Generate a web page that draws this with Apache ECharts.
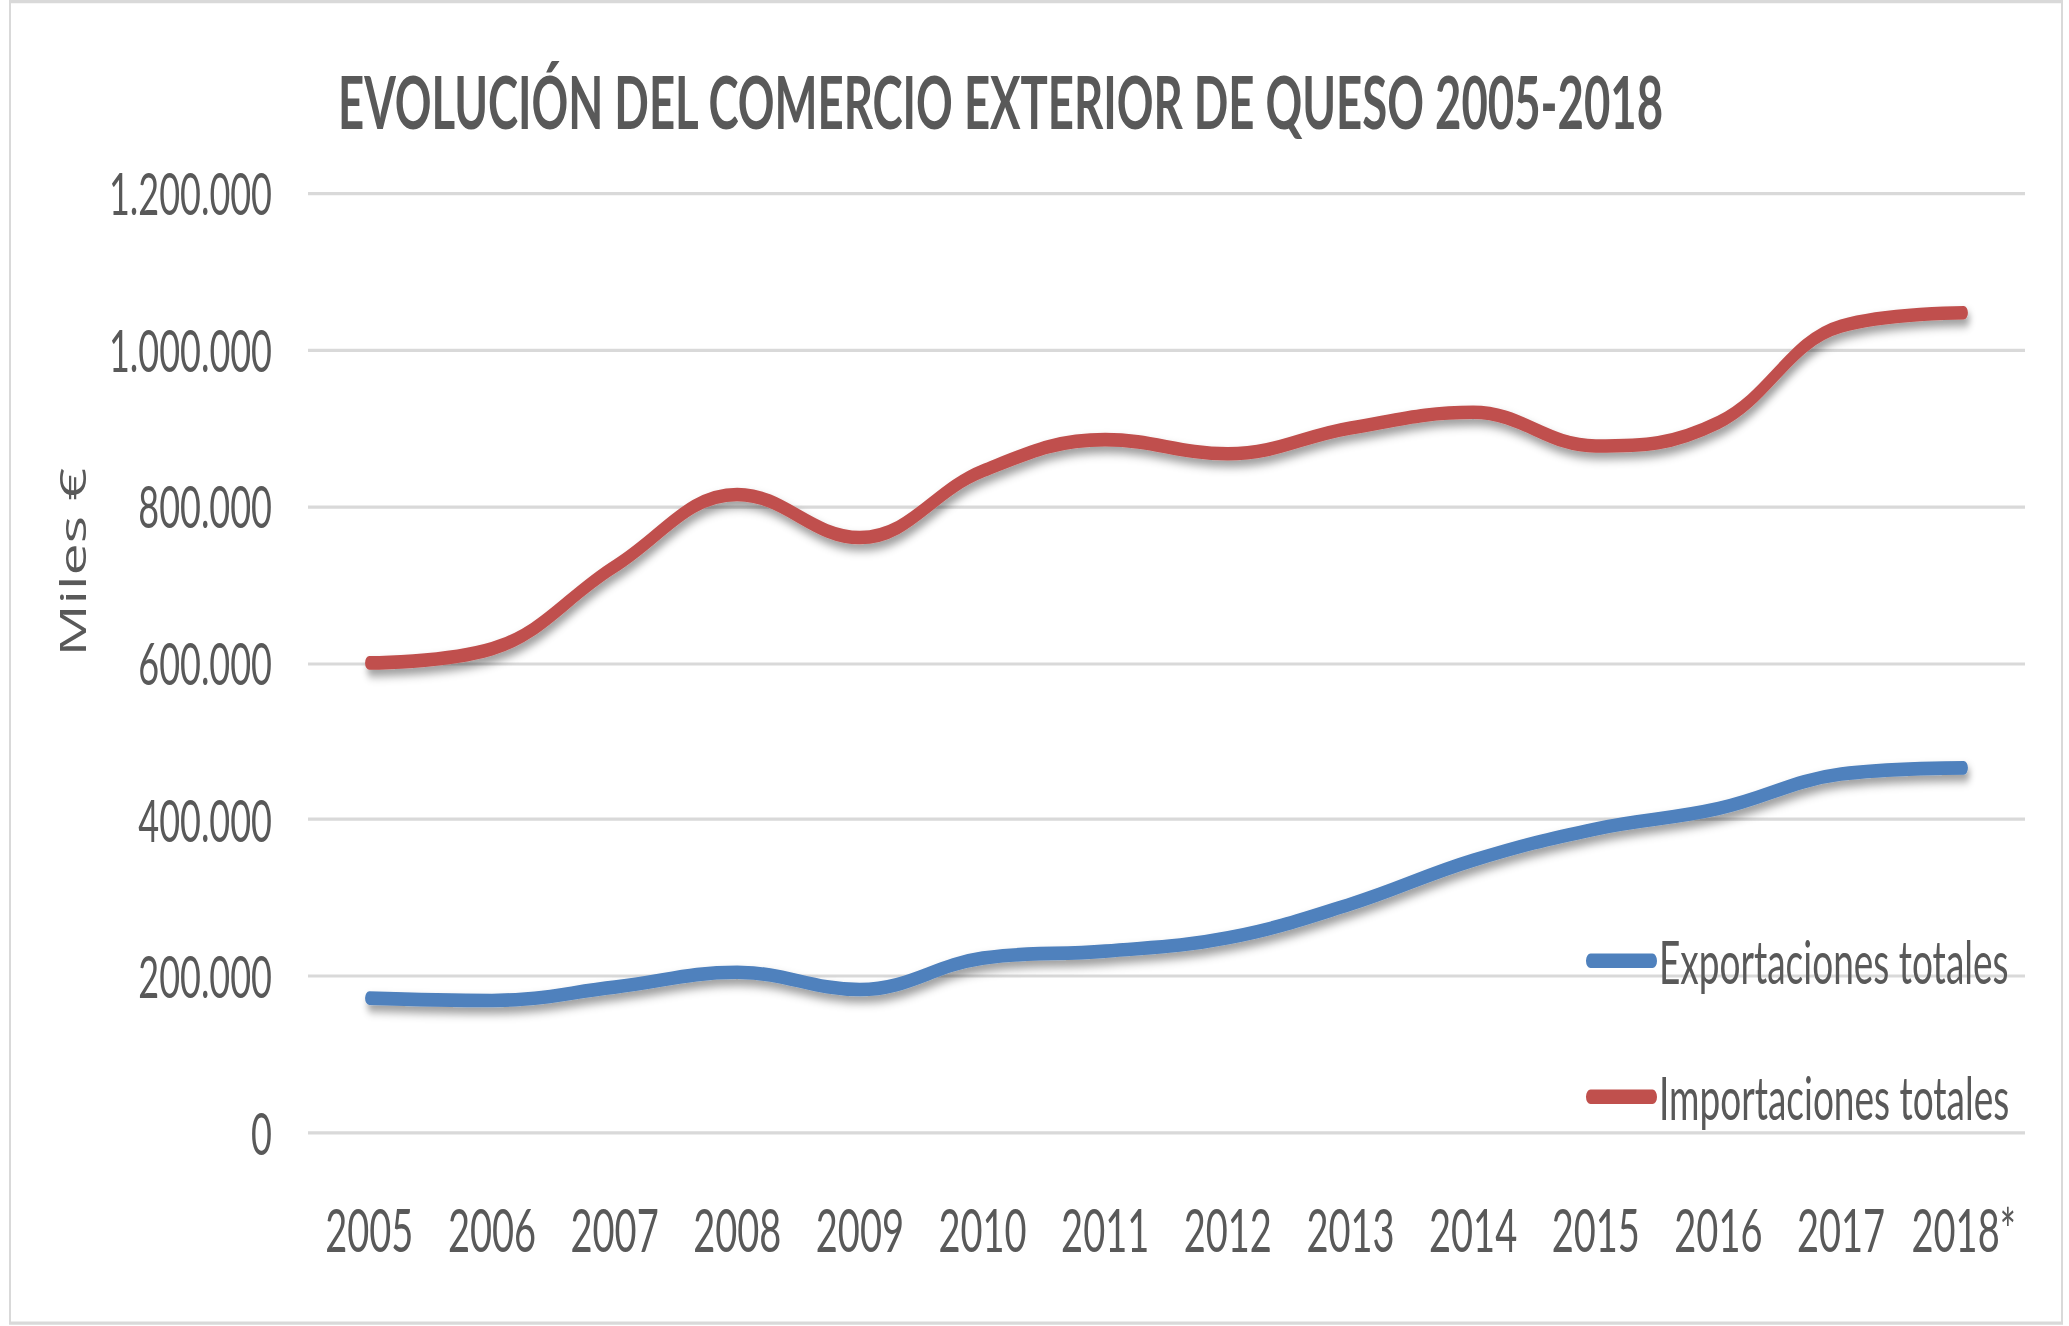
<!DOCTYPE html>
<html>
<head>
<meta charset="utf-8">
<script src="https://cdn.jsdelivr.net/npm/echarts@6/dist/echarts.min.js"></script>
<style>
  html, body { margin: 0; padding: 0; background: #ffffff; width: 2069px; height: 1326px; overflow: hidden; }
  .page { width: 2069px; height: 1326px; position: relative; }
  /* the reference is a normal chart stretched vertically by 1.6 */
  .wrap { position: absolute; left: 0; top: 0; width: 2069px; height: 829px; transform: scaleY(1.6); transform-origin: 0 0; }
  .chart { width: 100%; height: 100%; }
</style>
</head>
<body>
<div class="page"><div class="wrap"><div class="chart" id="chart"></div></div></div>
<script>
var years = ['2005', '2006', '2007', '2008', '2009', '2010', '2011', '2012', '2013', '2014', '2015', '2016', '2017', '2018*']
var exportaciones = [172000, 169000, 186000, 205000, 183000, 223000, 232000, 249000, 292000, 348000, 388000, 414000, 458000, 466000]
var importaciones = [600000, 618000, 723000, 815000, 760000, 845000, 885000, 867000, 900000, 920000, 877000, 907000, 1030000, 1047000]
var seriesNames = ['Exportaciones totales', 'Importaciones totales']

var textColor = '#595959'
var capsule = 'path://M4.5,0 L66.5,0 A4.5,4.5 0 0 1 66.5,9 L4.5,9 A4.5,4.5 0 0 1 4.5,0 Z'

function miles (value) {
  return String(value).replace(/\B(?=(\d{3})+(?!\d))/g, '.')
}

// Excel-like line with a soft drop shadow
function lineStyle () {
  return {
    width: 8.5,
    cap: 'round',
    shadowColor: 'rgba(0, 0, 0, 0.4)',
    shadowBlur: 6,
    shadowOffsetX: 2,
    shadowOffsetY: 4
  }
}

var chart = echarts.init(document.getElementById('chart'), null, { renderer: 'svg' })
chart.setOption({
  animation: false,
  color: ['#4F81BD', '#C0504D'],
  title: {
    text: 'EVOLUCIÓN DEL COMERCIO EXTERIOR DE QUESO 2005-2018',
    left: 333,
    top: 35,
    textStyle: {
      color: textColor,
      fontFamily: 'Lato',
      fontWeight: 'bold',
      fontSize: 45.5
    }
  },
  graphic: [{
    type: 'rect',
    shape: { x: 10, y: 1, width: 2052, height: 826 },
    style: { fill: 'none', stroke: '#d9d9d9', lineWidth: 2 },
    silent: true
  }],
  legend: {
    orient: 'vertical',
    left: 1581,
    top: 577,
    itemGap: 48,
    itemWidth: 71,
    itemHeight: 9,
    icon: capsule,
    data: seriesNames,
    textStyle: {
      color: textColor,
      fontFamily: 'Lato',
      fontSize: 37,
      padding: [0, 0, 0, -3]
    }
  },
  grid: {
    left: 308,
    right: 44,
    top: 120.6,
    bottom: 121
  },
  xAxis: {
    type: 'category',
    data: years,
    axisLine: { show: false },
    axisTick: { show: false },
    axisLabel: {
      color: textColor,
      fontFamily: 'Lato',
      fontSize: 38,
      margin: 41,
      interval: 0
    }
  },
  yAxis: {
    type: 'value',
    min: 0,
    max: 1200000,
    interval: 200000,
    name: 'Miles €',
    nameLocation: 'middle',
    nameGap: 218,
    nameTextStyle: {
      color: textColor,
      fontFamily: 'Open Sans',
      fontSize: 36,
      padding: [0, 0, 0, 126]
    },
    axisLabel: {
      color: textColor,
      fontFamily: 'Lato',
      fontSize: 36,
      margin: 36,
      formatter: miles
    },
    splitLine: {
      lineStyle: { color: '#d9d9d9', width: 2 }
    }
  },
  series: [
    {
      name: seriesNames[0],
      type: 'line',
      data: exportaciones,
      smooth: 0.4,
      symbol: 'none',
      lineStyle: lineStyle()
    },
    {
      name: seriesNames[1],
      type: 'line',
      data: importaciones,
      smooth: 0.4,
      symbol: 'none',
      lineStyle: lineStyle()
    }
  ]
})
window.addEventListener('resize', chart.resize)
</script>
</body>
</html>
